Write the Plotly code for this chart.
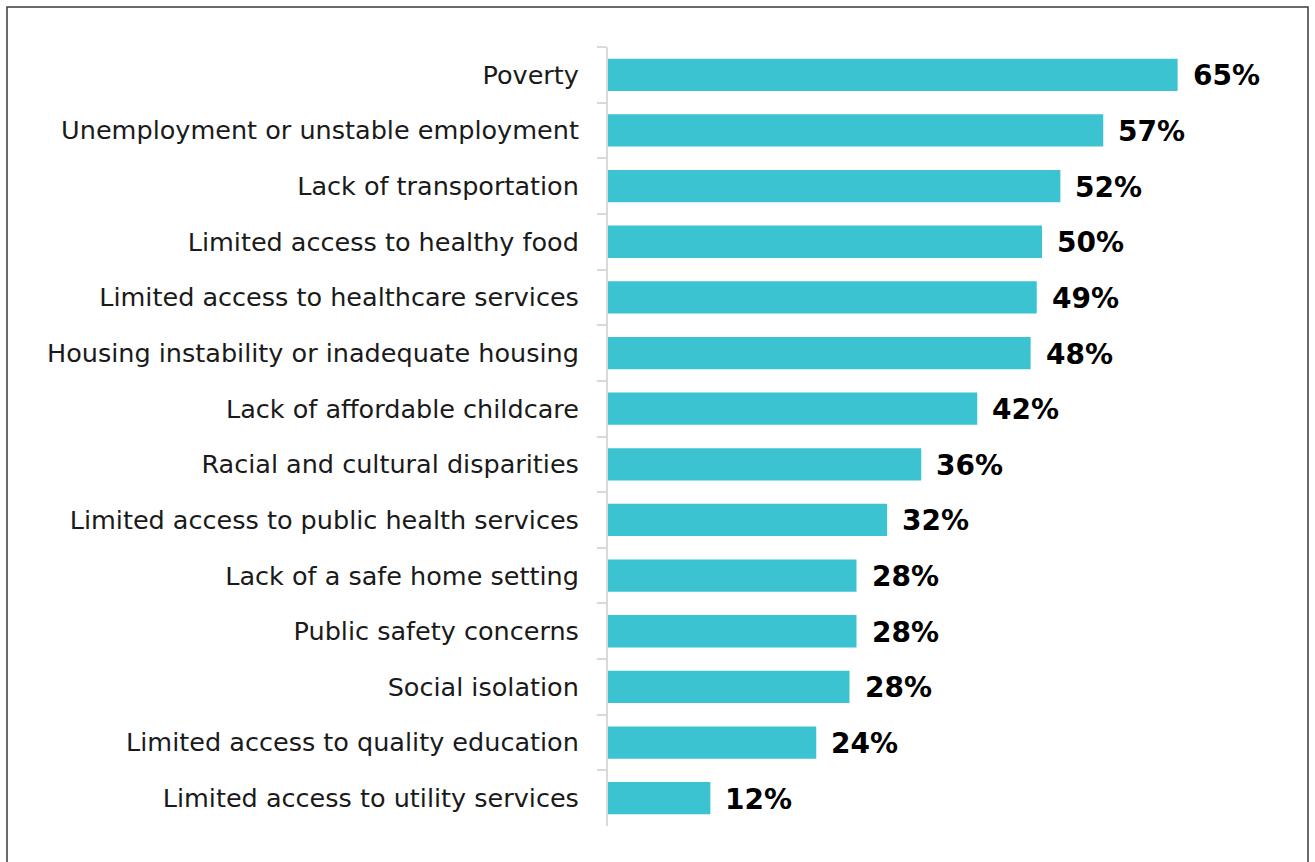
import plotly.graph_objects as go

categories = [
    "Poverty",
    "Unemployment or unstable employment",
    "Lack of transportation",
    "Limited access to healthy food",
    "Limited access to healthcare services",
    "Housing instability or inadequate housing",
    "Lack of affordable childcare",
    "Racial and cultural disparities",
    "Limited access to public health services",
    "Lack of a safe home setting",
    "Public safety concerns",
    "Social isolation",
    "Limited access to quality education",
    "Limited access to utility services",
]
values = [65.1, 56.6, 51.7, 49.6, 49.0, 48.3, 42.2, 35.8, 31.9, 28.4, 28.4, 27.6, 23.8, 11.7]
labels = ["65%", "57%", "52%", "50%", "49%", "48%", "42%", "36%", "32%", "28%", "28%", "28%", "24%", "12%"]

W, H = 1315, 862
ML, MR, MT, MB = 608, 15, 47, 36
PW = W - ML - MR
PH = H - MT - MB
XMAX = PW / 8.75

fig = go.Figure(go.Bar(
    x=values, y=categories, orientation="h",
    marker=dict(color="#3CC3D2", line=dict(width=0)),
    width=0.58, hoverinfo="skip",
))

for v, c, t in zip(values, categories, labels):
    fig.add_annotation(x=v, y=c, text="<b>" + t + "</b>", showarrow=False,
                       xanchor="left", yanchor="middle", xshift=13, yshift=-1,
                       font=dict(family="DejaVu Sans", size=28, color="#000000"))

def px(x):
    return (x - ML) / PW

def py(y):
    return 1 - (y - MT) / PH

fig.add_shape(type="rect", xref="paper", yref="paper",
              x0=px(7), x1=px(1308), y0=py(900), y1=py(7),
              line=dict(color="#3a3a3a", width=1.5), layer="below")

fig.update_layout(
    width=W, height=H,
    margin=dict(l=ML, r=MR, t=MT, b=MB),
    paper_bgcolor="white", plot_bgcolor="white",
    showlegend=False,
    font=dict(family="DejaVu Sans", size=25.5, color="#1a1a1a"),
    xaxis=dict(range=[0, XMAX], visible=False, fixedrange=True),
    yaxis=dict(autorange="reversed", showline=True, linecolor="#d9d9d9", linewidth=2,
               ticks="outside", tickson="boundaries", ticklen=9, tickcolor="#d9d9d9",
               tickwidth=2, ticklabelstandoff=22, showgrid=False, fixedrange=True,
               tickfont=dict(family="DejaVu Sans", size=25.5, color="#1a1a1a")),
    bargap=0.42,
)

fig.write_html("out.html", config={"displayModeBar": False},
               post_script="document.body.style.margin='0';document.body.style.overflow='hidden';")
